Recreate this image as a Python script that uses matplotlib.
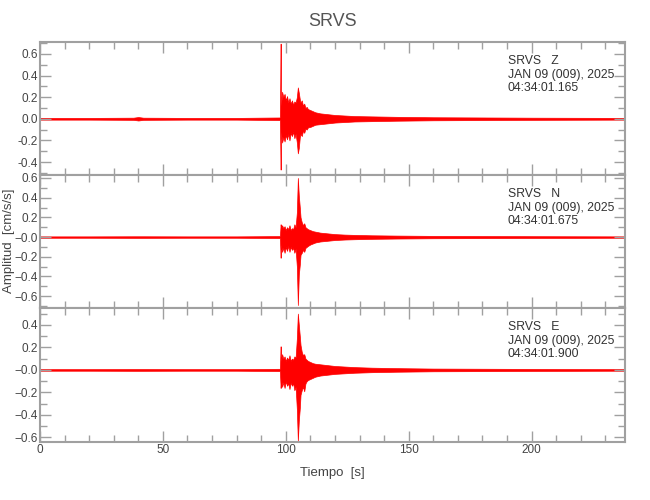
import matplotlib
matplotlib.use('Agg')
import matplotlib.pyplot as plt
from matplotlib.ticker import MultipleLocator, FuncFormatter

plt.rcParams['font.family'] = ['Liberation Sans', 'DejaVu Sans']

# envelope readings of the three components (time in s, amplitude in cm/s/s)
time_s = [0, 20, 38, 40, 42, 60, 80,
          97.6, 97.9, 98.0, 98.1,
          98.5, 99.0, 99.5, 100.0, 100.5, 101.0, 101.5, 102.0, 102.5, 103.0, 103.5, 104.0, 104.5,
          104.9, 105.3, 105.7, 106.0, 106.5, 107.0, 107.5, 108.0, 108.5, 109.0,
          110, 111, 112, 114, 116, 118, 120,
          124, 128, 135, 145, 160, 200, 238]

z_upper = [0.008, 0.008, 0.010, 0.016, 0.010, 0.008, 0.008,
           0.012, 0.695, 0.30, 0.12,
           0.25, 0.20, 0.23, 0.17, 0.21, 0.15, 0.19, 0.14, 0.17, 0.13, 0.16, 0.15, 0.20,
           0.29, 0.24, 0.18, 0.15, 0.17, 0.12, 0.14, 0.10, 0.11, 0.09,
           0.08, 0.07, 0.06, 0.05, 0.045, 0.04, 0.035,
           0.03, 0.025, 0.022, 0.018, 0.014, 0.010, 0.008]
z_lower = [-0.008, -0.008, -0.010, -0.016, -0.010, -0.008, -0.008,
           -0.012, -0.47, -0.25, -0.12,
           -0.22, -0.17, -0.21, -0.15, -0.19, -0.14, -0.20, -0.13, -0.16, -0.12, -0.18, -0.14, -0.22,
           -0.32, -0.27, -0.17, -0.14, -0.16, -0.11, -0.13, -0.09, -0.10, -0.08,
           -0.075, -0.065, -0.055, -0.05, -0.045, -0.04, -0.035,
           -0.03, -0.025, -0.022, -0.018, -0.014, -0.010, -0.008]

n_upper = [0.007, 0.007, 0.008, 0.008, 0.008, 0.007, 0.007,
           0.010, 0.13, 0.10, 0.08,
           0.12, 0.09, 0.11, 0.07, 0.10, 0.08, 0.12, 0.07, 0.09, 0.08, 0.13, 0.10, 0.25,
           0.60, 0.42, 0.30, 0.20, 0.15, 0.12, 0.14, 0.10, 0.09, 0.08,
           0.07, 0.06, 0.055, 0.045, 0.04, 0.035, 0.03,
           0.025, 0.022, 0.018, 0.015, 0.012, 0.009, 0.007]
n_lower = [-0.007, -0.007, -0.008, -0.008, -0.008, -0.007, -0.007,
           -0.010, -0.21, -0.12, -0.08,
           -0.15, -0.11, -0.16, -0.10, -0.14, -0.09, -0.15, -0.10, -0.13, -0.11, -0.16, -0.12, -0.30,
           -0.69, -0.38, -0.28, -0.18, -0.16, -0.13, -0.15, -0.11, -0.10, -0.09,
           -0.075, -0.065, -0.055, -0.045, -0.04, -0.035, -0.03,
           -0.025, -0.022, -0.018, -0.015, -0.012, -0.009, -0.007]

e_upper = [0.007, 0.007, 0.008, 0.008, 0.008, 0.007, 0.007,
           0.010, 0.21, 0.12, 0.08,
           0.14, 0.10, 0.12, 0.08, 0.11, 0.09, 0.13, 0.08, 0.10, 0.09, 0.12, 0.11, 0.28,
           0.50, 0.40, 0.30, 0.22, 0.16, 0.13, 0.14, 0.10, 0.09, 0.08,
           0.07, 0.06, 0.055, 0.05, 0.045, 0.04, 0.035,
           0.03, 0.025, 0.02, 0.016, 0.012, 0.009, 0.007]
e_lower = [-0.007, -0.007, -0.008, -0.008, -0.008, -0.007, -0.007,
           -0.010, -0.16, -0.12, -0.08,
           -0.15, -0.11, -0.16, -0.10, -0.14, -0.12, -0.17, -0.11, -0.14, -0.12, -0.18, -0.15, -0.35,
           -0.63, -0.45, -0.34, -0.22, -0.18, -0.15, -0.19, -0.12, -0.10, -0.09,
           -0.08, -0.07, -0.06, -0.05, -0.045, -0.04, -0.035,
           -0.03, -0.025, -0.02, -0.016, -0.012, -0.009, -0.007]

components = ['Z', 'N', 'E']
start_times = ['04:34:01.165', '04:34:01.675', '04:34:01.900']
date_label = 'JAN 09 (009), 2025'
y_limits = [(-0.52, 0.71), (-0.72, 0.63), (-0.64, 0.55)]

uppers = [z_upper, n_upper, e_upper]
lowers = [z_lower, n_lower, e_lower]

fig = plt.figure(figsize=(6.5, 5), dpi=100)
left, width = 40 / 650, 585 / 650
bounds = [(42, 175), (175, 308), (308, 442)]
frame_col = '#a0a0a0'
text_col = '#444444'


def fmt_first(v, p):
    return '%.1f' % (0.0 if abs(v) < 1e-9 else v)


def fmt_other(v, p):
    if abs(v) < 1e-9:
        return '\u22120.0'
    return ('%.1f' % v).replace('-', '\u2212')


axes = []
for i, (top, bot) in enumerate(bounds):
    ax = fig.add_axes([left, 1 - bot / 500, width, (bot - top) / 500])
    ax.fill_between(time_s, lowers[i], uppers[i], color='red', linewidth=0.5)
    ax.set_xlim(0, 238)
    ax.set_ylim(*y_limits[i])
    ax.xaxis.set_major_locator(MultipleLocator(50))
    ax.xaxis.set_minor_locator(MultipleLocator(10))
    ax.yaxis.set_major_locator(MultipleLocator(0.2))
    ax.yaxis.set_minor_locator(MultipleLocator(0.1))
    ax.tick_params(which='both', direction='in', top=True, right=True,
                   color=frame_col, labelcolor=text_col, labelsize=8.5, pad=1.5)
    ax.tick_params(which='major', length=8, width=1)
    ax.tick_params(which='minor', length=5, width=1)
    ax.yaxis.set_major_formatter(FuncFormatter(fmt_first if i == 0 else fmt_other))
    if i < 2:
        ax.tick_params(axis='x', labelbottom=False)
    for s in ax.spines.values():
        s.set_color(frame_col)
        s.set_linewidth(1.5)
    ax.text(0.80, 0.90, 'SRVS   %s\n%s\n%s' % (components[i], date_label, start_times[i]),
            transform=ax.transAxes, ha='left', va='top', fontsize=8.8,
            color='#333333', linespacing=1.15)
    axes.append(ax)

axes[2].set_xlabel('Tiempo  [s]', color=text_col, fontsize=9.5, labelpad=8)
fig.text(9 / 650, 1 - 241 / 500, 'Amplitud  [cm/s/s]', rotation=90, ha='center', va='center',
         color=text_col, fontsize=9.5)
fig.text(left + width / 2, 1 - 22 / 500, 'SRVS', ha='center', va='center',
         color='#555555', fontsize=13)

fig.savefig('out.png', dpi=100)
